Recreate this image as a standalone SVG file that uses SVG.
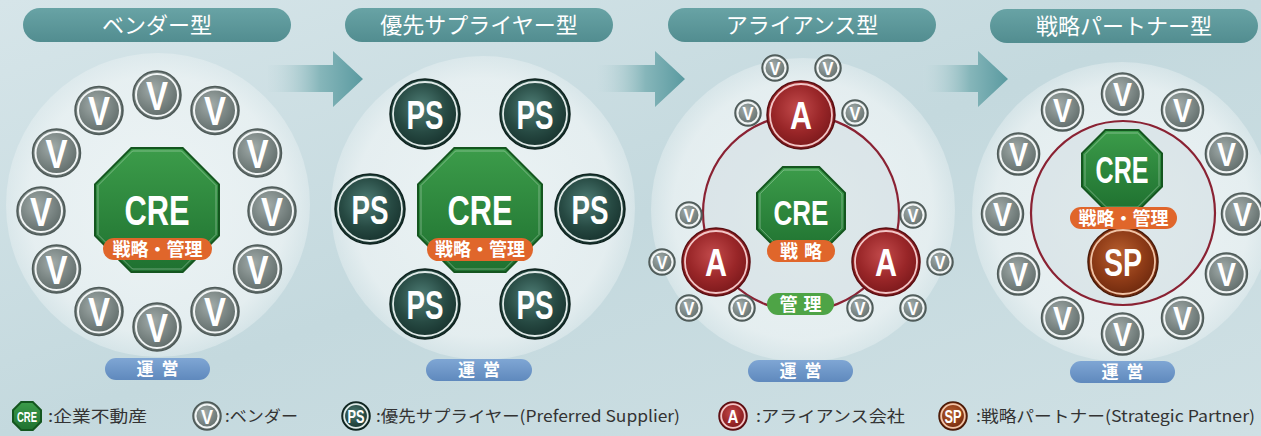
<svg xmlns="http://www.w3.org/2000/svg" width="1261" height="436" viewBox="0 0 1261 436">
<defs>
<linearGradient id="gBg" x1="0" y1="0" x2="1" y2="1">
<stop offset="0" stop-color="#d6e5e9"/><stop offset="0.5" stop-color="#c4d9de"/><stop offset="1" stop-color="#cfe0e4"/>
</linearGradient>
<radialGradient id="gBig" cx="0.5" cy="0.5" r="0.5">
<stop offset="0" stop-color="#f2f7f8" stop-opacity="0.85"/><stop offset="0.85" stop-color="#eef4f5" stop-opacity="0.75"/><stop offset="1" stop-color="#eef4f5" stop-opacity="0.4"/>
</radialGradient>
<linearGradient id="gHead" x1="0" y1="0" x2="0" y2="1">
<stop offset="0" stop-color="#68a3a5"/><stop offset="1" stop-color="#528d90"/>
</linearGradient>
<linearGradient id="gArrow" x1="0" y1="0" x2="1" y2="0">
<stop offset="0" stop-color="#c9dde1" stop-opacity="0.2"/><stop offset="0.55" stop-color="#86b6ba"/><stop offset="1" stop-color="#5a9aa0"/>
</linearGradient>
<radialGradient id="gV" cx="0.42" cy="0.38" r="0.65">
<stop offset="0" stop-color="#a2acaa"/><stop offset="0.5" stop-color="#7d8886"/><stop offset="1" stop-color="#5a6664"/>
</radialGradient>
<radialGradient id="gPS" cx="0.45" cy="0.4" r="0.65">
<stop offset="0" stop-color="#4f7e76"/><stop offset="0.55" stop-color="#274a43"/><stop offset="1" stop-color="#132c28"/>
</radialGradient>
<radialGradient id="gA" cx="0.45" cy="0.4" r="0.65">
<stop offset="0" stop-color="#c24a4b"/><stop offset="0.55" stop-color="#992628"/><stop offset="1" stop-color="#731518"/>
</radialGradient>
<radialGradient id="gSP" cx="0.45" cy="0.4" r="0.65">
<stop offset="0" stop-color="#b9602f"/><stop offset="0.55" stop-color="#8e3b17"/><stop offset="1" stop-color="#65240b"/>
</radialGradient>
<linearGradient id="gCRE" x1="0" y1="0" x2="0" y2="1">
<stop offset="0" stop-color="#3c9c4a"/><stop offset="1" stop-color="#1f7130"/>
</linearGradient>
<linearGradient id="gOps" x1="0" y1="0" x2="0" y2="1">
<stop offset="0" stop-color="#7fa6d4"/><stop offset="1" stop-color="#5f89bd"/>
</linearGradient>
</defs>
<style>
.head{fill:url(#gHead)}
.headt{font-family:"Noto Sans CJK JP","Noto Sans",sans-serif;font-size:22px;fill:#fff;text-anchor:middle}
.big{fill:url(#gBig)}
.ringl{fill:#c6d5d9;fill-opacity:0.35;stroke:#8a2233;stroke-width:2.2}
.vf{fill:url(#gV);stroke:#4e5a58;stroke-width:1.5}
.vr{fill:none;stroke:#f1f5f5;stroke-width:2}
.psf{fill:url(#gPS);stroke:#0f231f;stroke-width:1.5}
.psr{fill:none;stroke:#dfe9e7;stroke-width:1.8}
.af{fill:url(#gA);stroke:#5a0e12;stroke-width:1.5}
.ar{fill:none;stroke:#f2c5c6;stroke-width:1.8}
.spf{fill:url(#gSP);stroke:#4a1a08;stroke-width:1.5}
.spr{fill:none;stroke:#f0c3a6;stroke-width:1.8}
.oct{fill:url(#gCRE);stroke:#14561f;stroke-width:2}
.lt{font-family:"Liberation Sans",Arial,sans-serif;font-weight:bold;fill:#fff;text-anchor:middle}
.v1{font-size:40px}
.v4{font-size:34px}
.vs{font-size:19px}
.big40{font-size:40px}
.orange{fill:#e0662b}
.green{fill:#4ea446}
.ops{fill:url(#gOps)}
.lab{font-family:"Noto Sans CJK JP","Noto Sans",sans-serif;font-size:18px;font-weight:bold;fill:#fff;text-anchor:middle}
.opst{font-family:"Noto Sans CJK JP","Noto Sans",sans-serif;font-size:17px;font-weight:bold;fill:#fff;text-anchor:middle;letter-spacing:8px}
.leg{font-family:"Noto Sans CJK JP","Noto Sans",sans-serif;font-size:16px;fill:#333}
</style>
<rect x="0" y="0" width="1261" height="436" fill="url(#gBg)"/>

<!-- background circles -->
<g id="backdrops">
<circle class="big" cx="158" cy="205" r="152"/>
<circle class="big" cx="483" cy="208" r="152"/>
<circle class="big" cx="803" cy="210" r="152"/>
<circle class="big" cx="1122" cy="212" r="150"/>
</g>

<!-- headers -->
<g id="header-vendor"><rect class="head" x="23" y="8" width="268" height="34" rx="17"/><text class="headt" x="157" y="33">ベンダー型</text></g>
<g id="header-preferred"><rect class="head" x="345" y="8" width="268" height="34" rx="17"/><text class="headt" x="479" y="33">優先サプライヤー型</text></g>
<g id="header-alliance"><rect class="head" x="668" y="8" width="268" height="34" rx="17"/><text class="headt" x="802" y="33">アライアンス型</text></g>
<g id="header-partner"><rect class="head" x="990" y="9" width="268" height="34" rx="17"/><text class="headt" x="1124" y="34">戦略パートナー型</text></g>

<!-- connectors -->
<g id="connectors">
<path d="M268,65 H333 V51 L363,79 L333,107 V92 H268 Z" fill="url(#gArrow)"/>
<path d="M597,65 H655 V51 L685,79 L655,107 V92 H597 Z" fill="url(#gArrow)"/>
<path d="M923,65 H978 V51 L1008,79 L978,107 V92 H923 Z" fill="url(#gArrow)"/>
</g>

<!-- Panel 1: vendor -->
<g id="p1-cre">
<polygon class="oct" points="131.3,148 182.7,148 219,184.3 219,235.7 182.7,272 131.3,272 95,235.7 95,184.3"/>
<polygon points="132.5,151 181.5,151 216,185.5 216,234.5 181.5,269 132.5,269 98,234.5 98,185.5" fill="none" stroke="#ffffff" stroke-opacity="0.35" stroke-width="1"/>
<text class="lt" x="157" y="225" font-size="42" textLength="65" lengthAdjust="spacingAndGlyphs">CRE</text>
<rect class="orange" x="103" y="238" width="109" height="22" rx="11"/>
<text class="lab" x="157.5" y="255.5">戦略・管理</text>
</g>
<g id="p1-v1"><circle class="vf" cx="157" cy="95" r="24"/><circle class="vr" cx="157" cy="95" r="21"/><text class="lt v1" x="157" y="109.5" textLength="22" lengthAdjust="spacingAndGlyphs">V</text></g>
<g id="p1-v2"><circle class="vf" cx="215" cy="110.5" r="24"/><circle class="vr" cx="215" cy="110.5" r="21"/><text class="lt v1" x="215" y="125" textLength="22" lengthAdjust="spacingAndGlyphs">V</text></g>
<g id="p1-v3"><circle class="vf" cx="257.5" cy="153" r="24"/><circle class="vr" cx="257.5" cy="153" r="21"/><text class="lt v1" x="257.5" y="167.5" textLength="22" lengthAdjust="spacingAndGlyphs">V</text></g>
<g id="p1-v4"><circle class="vf" cx="272" cy="211" r="24"/><circle class="vr" cx="272" cy="211" r="21"/><text class="lt v1" x="272" y="225.5" textLength="22" lengthAdjust="spacingAndGlyphs">V</text></g>
<g id="p1-v5"><circle class="vf" cx="257.5" cy="269" r="24"/><circle class="vr" cx="257.5" cy="269" r="21"/><text class="lt v1" x="257.5" y="283.5" textLength="22" lengthAdjust="spacingAndGlyphs">V</text></g>
<g id="p1-v6"><circle class="vf" cx="215" cy="311.5" r="24"/><circle class="vr" cx="215" cy="311.5" r="21"/><text class="lt v1" x="215" y="326" textLength="22" lengthAdjust="spacingAndGlyphs">V</text></g>
<g id="p1-v7"><circle class="vf" cx="157" cy="327" r="24"/><circle class="vr" cx="157" cy="327" r="21"/><text class="lt v1" x="157" y="341.5" textLength="22" lengthAdjust="spacingAndGlyphs">V</text></g>
<g id="p1-v8"><circle class="vf" cx="99" cy="311.5" r="24"/><circle class="vr" cx="99" cy="311.5" r="21"/><text class="lt v1" x="99" y="326" textLength="22" lengthAdjust="spacingAndGlyphs">V</text></g>
<g id="p1-v9"><circle class="vf" cx="56.5" cy="269" r="24"/><circle class="vr" cx="56.5" cy="269" r="21"/><text class="lt v1" x="56.5" y="283.5" textLength="22" lengthAdjust="spacingAndGlyphs">V</text></g>
<g id="p1-v10"><circle class="vf" cx="41" cy="211" r="24"/><circle class="vr" cx="41" cy="211" r="21"/><text class="lt v1" x="41" y="225.5" textLength="22" lengthAdjust="spacingAndGlyphs">V</text></g>
<g id="p1-v11"><circle class="vf" cx="56.5" cy="153" r="24"/><circle class="vr" cx="56.5" cy="153" r="21"/><text class="lt v1" x="56.5" y="167.5" textLength="22" lengthAdjust="spacingAndGlyphs">V</text></g>
<g id="p1-v12"><circle class="vf" cx="99" cy="110.5" r="24"/><circle class="vr" cx="99" cy="110.5" r="21"/><text class="lt v1" x="99" y="125" textLength="22" lengthAdjust="spacingAndGlyphs">V</text></g>
<g id="p1-ops"><rect class="ops" x="105" y="358" width="105" height="22" rx="11"/><text class="opst" x="161.5" y="375">運営</text></g>

<!-- Panel 2: preferred supplier -->
<g id="p2-cre">
<polygon class="oct" points="454.3,148 505.7,148 542,184.3 542,235.7 505.7,272 454.3,272 418,235.7 418,184.3"/>
<polygon points="455.5,151 504.5,151 539,185.5 539,234.5 504.5,269 455.5,269 421,234.5 421,185.5" fill="none" stroke="#ffffff" stroke-opacity="0.35" stroke-width="1"/>
<text class="lt" x="480" y="225" font-size="42" textLength="65" lengthAdjust="spacingAndGlyphs">CRE</text>
<rect class="orange" x="427" y="238" width="106" height="23" rx="11.5"/>
<text class="lab" x="480" y="256">戦略・管理</text>
</g>
<g id="p2-ps1"><circle class="psf" cx="425" cy="114" r="35"/><circle class="psr" cx="425" cy="114" r="32"/><text class="lt big40" x="425" y="128.5" textLength="37" lengthAdjust="spacingAndGlyphs">PS</text></g>
<g id="p2-ps2"><circle class="psf" cx="535" cy="114" r="35"/><circle class="psr" cx="535" cy="114" r="32"/><text class="lt big40" x="535" y="128.5" textLength="37" lengthAdjust="spacingAndGlyphs">PS</text></g>
<g id="p2-ps3"><circle class="psf" cx="590" cy="209" r="35"/><circle class="psr" cx="590" cy="209" r="32"/><text class="lt big40" x="590" y="223.5" textLength="37" lengthAdjust="spacingAndGlyphs">PS</text></g>
<g id="p2-ps4"><circle class="psf" cx="535" cy="304" r="35"/><circle class="psr" cx="535" cy="304" r="32"/><text class="lt big40" x="535" y="318.5" textLength="37" lengthAdjust="spacingAndGlyphs">PS</text></g>
<g id="p2-ps5"><circle class="psf" cx="425" cy="304" r="35"/><circle class="psr" cx="425" cy="304" r="32"/><text class="lt big40" x="425" y="318.5" textLength="37" lengthAdjust="spacingAndGlyphs">PS</text></g>
<g id="p2-ps6"><circle class="psf" cx="370" cy="209" r="35"/><circle class="psr" cx="370" cy="209" r="32"/><text class="lt big40" x="370" y="223.5" textLength="37" lengthAdjust="spacingAndGlyphs">PS</text></g>
<g id="p2-ops"><rect class="ops" x="426" y="359" width="106" height="22" rx="11"/><text class="opst" x="483" y="376">運営</text></g>

<!-- Panel 3: alliance -->
<g id="p3-ring"><circle class="ringl" cx="801" cy="213" r="98"/></g>
<g id="p3-cre">
<polygon class="oct" points="782.8,167 819.2,167 845,192.8 845,229.2 819.2,255 782.8,255 757,229.2 757,192.8"/>
<polygon points="783.8,170 818.2,170 842,193.8 842,228.2 818.2,252 783.8,252 760,228.2 760,193.8" fill="none" stroke="#ffffff" stroke-opacity="0.35" stroke-width="1"/>
<text class="lt" x="801" y="225" font-size="35" textLength="55" lengthAdjust="spacingAndGlyphs">CRE</text>
<rect class="orange" x="767" y="240" width="68" height="22" rx="11"/>
<text class="lab" x="804" y="257.5" letter-spacing="6">戦略</text>
</g>
<g id="p3-a1"><circle class="af" cx="801" cy="115" r="34"/><circle class="ar" cx="801" cy="115" r="31"/><text class="lt" x="801" y="129" font-size="39" textLength="22" lengthAdjust="spacingAndGlyphs">A</text></g>
<g id="p3-a2"><circle class="af" cx="716" cy="262" r="34"/><circle class="ar" cx="716" cy="262" r="31"/><text class="lt" x="716" y="276" font-size="39" textLength="22" lengthAdjust="spacingAndGlyphs">A</text></g>
<g id="p3-a3"><circle class="af" cx="886" cy="262" r="34"/><circle class="ar" cx="886" cy="262" r="31"/><text class="lt" x="886" y="276" font-size="39" textLength="22" lengthAdjust="spacingAndGlyphs">A</text></g>
<g id="p3-mgmt"><rect class="green" x="767" y="293" width="67" height="22" rx="11"/><text class="lab" x="803.5" y="310.5" letter-spacing="6">管理</text></g>
<g id="p3-v1"><circle class="vf" cx="775" cy="68" r="13"/><circle class="vr" cx="775" cy="68" r="10.5"/><text class="lt vs" x="775" y="75" textLength="11" lengthAdjust="spacingAndGlyphs">V</text></g>
<g id="p3-v2"><circle class="vf" cx="828" cy="68" r="13"/><circle class="vr" cx="828" cy="68" r="10.5"/><text class="lt vs" x="828" y="75" textLength="11" lengthAdjust="spacingAndGlyphs">V</text></g>
<g id="p3-v3"><circle class="vf" cx="748" cy="113" r="13"/><circle class="vr" cx="748" cy="113" r="10.5"/><text class="lt vs" x="748" y="120" textLength="11" lengthAdjust="spacingAndGlyphs">V</text></g>
<g id="p3-v4"><circle class="vf" cx="855" cy="113" r="13"/><circle class="vr" cx="855" cy="113" r="10.5"/><text class="lt vs" x="855" y="120" textLength="11" lengthAdjust="spacingAndGlyphs">V</text></g>
<g id="p3-v5"><circle class="vf" cx="689" cy="215" r="13"/><circle class="vr" cx="689" cy="215" r="10.5"/><text class="lt vs" x="689" y="222" textLength="11" lengthAdjust="spacingAndGlyphs">V</text></g>
<g id="p3-v6"><circle class="vf" cx="662" cy="262" r="13"/><circle class="vr" cx="662" cy="262" r="10.5"/><text class="lt vs" x="662" y="269" textLength="11" lengthAdjust="spacingAndGlyphs">V</text></g>
<g id="p3-v7"><circle class="vf" cx="689" cy="308" r="13"/><circle class="vr" cx="689" cy="308" r="10.5"/><text class="lt vs" x="689" y="315" textLength="11" lengthAdjust="spacingAndGlyphs">V</text></g>
<g id="p3-v8"><circle class="vf" cx="742" cy="308" r="13"/><circle class="vr" cx="742" cy="308" r="10.5"/><text class="lt vs" x="742" y="315" textLength="11" lengthAdjust="spacingAndGlyphs">V</text></g>
<g id="p3-v9"><circle class="vf" cx="913" cy="215" r="13"/><circle class="vr" cx="913" cy="215" r="10.5"/><text class="lt vs" x="913" y="222" textLength="11" lengthAdjust="spacingAndGlyphs">V</text></g>
<g id="p3-v10"><circle class="vf" cx="940" cy="262" r="13"/><circle class="vr" cx="940" cy="262" r="10.5"/><text class="lt vs" x="940" y="269" textLength="11" lengthAdjust="spacingAndGlyphs">V</text></g>
<g id="p3-v11"><circle class="vf" cx="913" cy="308" r="13"/><circle class="vr" cx="913" cy="308" r="10.5"/><text class="lt vs" x="913" y="315" textLength="11" lengthAdjust="spacingAndGlyphs">V</text></g>
<g id="p3-v12"><circle class="vf" cx="860" cy="308" r="13"/><circle class="vr" cx="860" cy="308" r="10.5"/><text class="lt vs" x="860" y="315" textLength="11" lengthAdjust="spacingAndGlyphs">V</text></g>
<g id="p3-ops"><rect class="ops" x="748" y="360" width="105" height="22" rx="11"/><text class="opst" x="804.5" y="377">運営</text></g>

<!-- Panel 4: strategic partner -->
<g id="p4-ring"><circle class="ringl" cx="1123" cy="213" r="92"/></g>
<g id="p4-cre">
<polygon class="oct" points="1105.4,130 1138.6,130 1162,153.4 1162,186.6 1138.6,210 1105.4,210 1082,186.6 1082,153.4"/>
<polygon points="1106.4,133 1137.6,133 1159,154.4 1159,185.6 1137.6,207 1106.4,207 1085,185.6 1085,154.4" fill="none" stroke="#ffffff" stroke-opacity="0.35" stroke-width="1"/>
<text class="lt" x="1122" y="183" font-size="36" textLength="53" lengthAdjust="spacingAndGlyphs">CRE</text>
</g>
<g id="p4-sp"><circle class="spf" cx="1123" cy="262" r="35"/><circle class="spr" cx="1123" cy="262" r="32"/><text class="lt" x="1123" y="276" font-size="39" textLength="38" lengthAdjust="spacingAndGlyphs">SP</text></g>
<g id="p4-label"><rect class="orange" x="1070" y="207" width="107" height="22" rx="11"/><text class="lab" x="1123.5" y="224.5">戦略・管理</text></g>
<g id="p4-v1"><circle class="vf" cx="1122.5" cy="94" r="21"/><circle class="vr" cx="1122.5" cy="94" r="18.3"/><text class="lt v4" x="1122.5" y="106.3" textLength="19" lengthAdjust="spacingAndGlyphs">V</text></g>
<g id="p4-v2"><circle class="vf" cx="1182.5" cy="110" r="21"/><circle class="vr" cx="1182.5" cy="110" r="18.3"/><text class="lt v4" x="1182.5" y="122.3" textLength="19" lengthAdjust="spacingAndGlyphs">V</text></g>
<g id="p4-v3"><circle class="vf" cx="1226.4" cy="154" r="21"/><circle class="vr" cx="1226.4" cy="154" r="18.3"/><text class="lt v4" x="1226.4" y="166.3" textLength="19" lengthAdjust="spacingAndGlyphs">V</text></g>
<g id="p4-v4"><circle class="vf" cx="1242.5" cy="214" r="21"/><circle class="vr" cx="1242.5" cy="214" r="18.3"/><text class="lt v4" x="1242.5" y="226.3" textLength="19" lengthAdjust="spacingAndGlyphs">V</text></g>
<g id="p4-v5"><circle class="vf" cx="1226.4" cy="274" r="21"/><circle class="vr" cx="1226.4" cy="274" r="18.3"/><text class="lt v4" x="1226.4" y="286.3" textLength="19" lengthAdjust="spacingAndGlyphs">V</text></g>
<g id="p4-v6"><circle class="vf" cx="1182.5" cy="318" r="21"/><circle class="vr" cx="1182.5" cy="318" r="18.3"/><text class="lt v4" x="1182.5" y="330.3" textLength="19" lengthAdjust="spacingAndGlyphs">V</text></g>
<g id="p4-v7"><circle class="vf" cx="1122.5" cy="334" r="21"/><circle class="vr" cx="1122.5" cy="334" r="18.3"/><text class="lt v4" x="1122.5" y="346.3" textLength="19" lengthAdjust="spacingAndGlyphs">V</text></g>
<g id="p4-v8"><circle class="vf" cx="1062.5" cy="318" r="21"/><circle class="vr" cx="1062.5" cy="318" r="18.3"/><text class="lt v4" x="1062.5" y="330.3" textLength="19" lengthAdjust="spacingAndGlyphs">V</text></g>
<g id="p4-v9"><circle class="vf" cx="1018.6" cy="274" r="21"/><circle class="vr" cx="1018.6" cy="274" r="18.3"/><text class="lt v4" x="1018.6" y="286.3" textLength="19" lengthAdjust="spacingAndGlyphs">V</text></g>
<g id="p4-v10"><circle class="vf" cx="1002.5" cy="214" r="21"/><circle class="vr" cx="1002.5" cy="214" r="18.3"/><text class="lt v4" x="1002.5" y="226.3" textLength="19" lengthAdjust="spacingAndGlyphs">V</text></g>
<g id="p4-v11"><circle class="vf" cx="1018.6" cy="154" r="21"/><circle class="vr" cx="1018.6" cy="154" r="18.3"/><text class="lt v4" x="1018.6" y="166.3" textLength="19" lengthAdjust="spacingAndGlyphs">V</text></g>
<g id="p4-v12"><circle class="vf" cx="1062.5" cy="110" r="21"/><circle class="vr" cx="1062.5" cy="110" r="18.3"/><text class="lt v4" x="1062.5" y="122.3" textLength="19" lengthAdjust="spacingAndGlyphs">V</text></g>
<g id="p4-ops"><rect class="ops" x="1070" y="361" width="105" height="22" rx="11"/><text class="opst" x="1126.5" y="378">運営</text></g>

<!-- Legend -->
<g id="legend-cre">
<polygon class="oct" stroke-width="1.2" points="21.2,402 32.8,402 41,410.2 41,421.8 32.8,430 21.2,430 13,421.8 13,410.2"/>
<text class="lt" x="27" y="421.5" font-size="15" textLength="20" lengthAdjust="spacingAndGlyphs">CRE</text>
<text class="leg" x="48" y="422" textLength="99" lengthAdjust="spacingAndGlyphs">:企業不動産</text>
</g>
<g id="legend-v">
<circle class="vf" cx="207" cy="416" r="14"/><circle class="vr" cx="207" cy="416" r="11.5"/>
<text class="lt" x="207" y="423.5" font-size="21" textLength="12" lengthAdjust="spacingAndGlyphs">V</text>
<text class="leg" x="225" y="422" textLength="73" lengthAdjust="spacingAndGlyphs">:ベンダー</text>
</g>
<g id="legend-ps">
<circle class="psf" cx="356" cy="416" r="14"/><circle class="psr" cx="356" cy="416" r="11.8"/>
<text class="lt" x="356" y="423" font-size="19" textLength="17" lengthAdjust="spacingAndGlyphs">PS</text>
<text class="leg" x="376" y="422" textLength="304" lengthAdjust="spacingAndGlyphs">:優先サプライヤー(Preferred Supplier)</text>
</g>
<g id="legend-a">
<circle class="af" cx="733" cy="416" r="14"/><circle class="ar" cx="733" cy="416" r="11.8"/>
<text class="lt" x="733" y="423" font-size="19" textLength="11" lengthAdjust="spacingAndGlyphs">A</text>
<text class="leg" x="756" y="422" textLength="149" lengthAdjust="spacingAndGlyphs">:アライアンス会社</text>
</g>
<g id="legend-sp">
<circle class="spf" cx="953" cy="416" r="14"/><circle class="spr" cx="953" cy="416" r="11.8"/>
<text class="lt" x="953" y="423" font-size="19" textLength="17" lengthAdjust="spacingAndGlyphs">SP</text>
<text class="leg" x="976" y="422" textLength="279" lengthAdjust="spacingAndGlyphs">:戦略パートナー(Strategic Partner)</text>
</g>
</svg>
